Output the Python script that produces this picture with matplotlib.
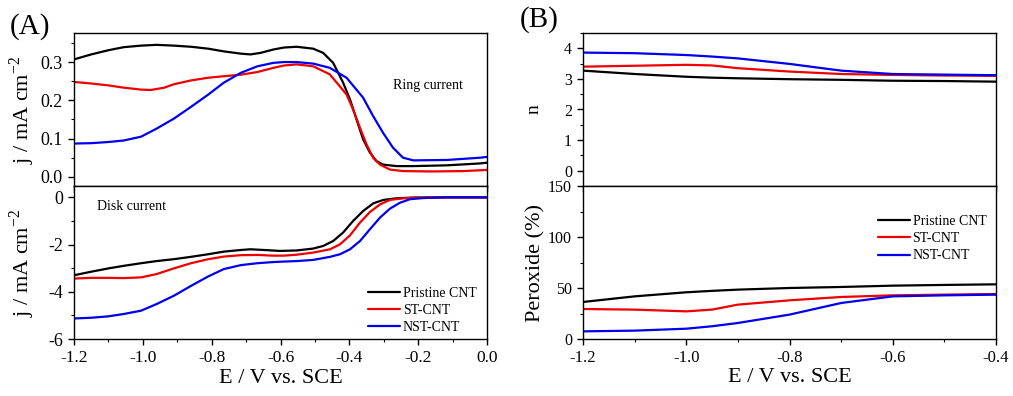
import matplotlib
matplotlib.use("Agg")
import matplotlib.pyplot as plt
from matplotlib.ticker import MultipleLocator, FormatStrFormatter

plt.rcParams['font.family'] = ['Liberation Serif', 'DejaVu Serif']
plt.rcParams['axes.unicode_minus'] = False
plt.rcParams['mathtext.fontset'] = 'custom'
plt.rcParams['mathtext.rm'] = 'Liberation Serif'

labels = ['Pristine CNT', 'ST-CNT', 'NST-CNT']
colors = ['black', '#ee0000', '#0000ee']

# Ring current (A, top)
E_ring_pristine = [-1.2, -1.15, -1.10, -1.055, -1.005, -0.96, -0.91, -0.86, -0.81, -0.765,
                   -0.715, -0.687, -0.658, -0.62, -0.59, -0.553, -0.505, -0.476, -0.447, -0.418,
                   -0.398, -0.379, -0.36, -0.34, -0.321, -0.302, -0.263, -0.214, -0.117, -0.02, 0.0]
ring_pristine = [0.307, 0.320, 0.331, 0.339, 0.343, 0.345, 0.343, 0.340, 0.335, 0.328,
                 0.322, 0.320, 0.324, 0.333, 0.338, 0.340, 0.335, 0.324, 0.298, 0.246,
                 0.202, 0.150, 0.098, 0.063, 0.041, 0.032, 0.028, 0.028, 0.030, 0.035, 0.037]
E_ring_st = [-1.2, -1.15, -1.10, -1.055, -1.005, -0.977, -0.938, -0.91, -0.86, -0.81,
             -0.765, -0.715, -0.667, -0.62, -0.59, -0.553, -0.505, -0.457, -0.428, -0.408,
             -0.389, -0.369, -0.35, -0.331, -0.311, -0.282, -0.244, -0.166, -0.069, 0.0]
ring_st = [0.248, 0.244, 0.239, 0.233, 0.228, 0.227, 0.233, 0.242, 0.252, 0.259,
           0.263, 0.267, 0.274, 0.285, 0.291, 0.294, 0.289, 0.268, 0.237, 0.215,
           0.176, 0.128, 0.085, 0.050, 0.032, 0.019, 0.015, 0.014, 0.015, 0.018]
E_ring_nst = [-1.2, -1.15, -1.10, -1.055, -1.005, -0.96, -0.91, -0.86, -0.81, -0.765,
              -0.715, -0.667, -0.62, -0.59, -0.553, -0.505, -0.457, -0.408, -0.36, -0.331,
              -0.302, -0.273, -0.244, -0.214, -0.117, -0.02, 0.0]
ring_nst = [0.087, 0.088, 0.091, 0.095, 0.105, 0.126, 0.152, 0.183, 0.215, 0.246,
            0.272, 0.289, 0.298, 0.300, 0.300, 0.296, 0.285, 0.259, 0.207, 0.159,
            0.115, 0.076, 0.050, 0.043, 0.044, 0.050, 0.052]

# Disk current (A, bottom)
E_disk_pristine = [-1.2, -1.15, -1.10, -1.055, -1.005, -0.96, -0.91, -0.86, -0.81, -0.765,
                   -0.715, -0.687, -0.648, -0.602, -0.553, -0.505, -0.476, -0.447, -0.418, -0.389,
                   -0.36, -0.33, -0.301, -0.263, -0.214, -0.117, 0.0]
disk_pristine = [-3.30, -3.15, -3.01, -2.90, -2.79, -2.70, -2.62, -2.52, -2.41, -2.30,
                 -2.23, -2.20, -2.23, -2.27, -2.25, -2.17, -2.06, -1.85, -1.49, -1.00,
                 -0.58, -0.25, -0.11, -0.04, -0.01, 0.0, 0.0]
E_disk_st = [-1.2, -1.15, -1.10, -1.055, -1.005, -0.96, -0.91, -0.86, -0.81, -0.765,
             -0.715, -0.667, -0.62, -0.59, -0.553, -0.505, -0.456, -0.427, -0.398, -0.369,
             -0.34, -0.311, -0.282, -0.243, -0.195, -0.117, 0.0]
disk_st = [-3.44, -3.41, -3.41, -3.42, -3.39, -3.25, -3.01, -2.79, -2.62, -2.51,
           -2.45, -2.44, -2.47, -2.47, -2.43, -2.34, -2.20, -1.99, -1.61, -1.07,
           -0.62, -0.30, -0.11, -0.04, -0.01, 0.0, 0.0]
E_disk_nst = [-1.2, -1.15, -1.10, -1.055, -1.005, -0.96, -0.91, -0.86, -0.81, -0.765,
              -0.715, -0.667, -0.62, -0.59, -0.553, -0.505, -0.456, -0.427, -0.398, -0.369,
              -0.34, -0.311, -0.282, -0.253, -0.224, -0.185, -0.117, 0.0]
disk_nst = [-5.13, -5.10, -5.04, -4.94, -4.80, -4.52, -4.17, -3.75, -3.35, -3.04,
            -2.87, -2.79, -2.74, -2.72, -2.70, -2.65, -2.52, -2.41, -2.20, -1.85,
            -1.35, -0.86, -0.48, -0.23, -0.08, -0.03, 0.0, 0.0]

# Electron transfer number n (B, top)
E_b = [-1.2, -1.1, -1.0, -0.95, -0.9, -0.8, -0.7, -0.6, -0.5, -0.4]
n_pristine = [3.27, 3.16, 3.07, 3.04, 3.02, 2.99, 2.97, 2.94, 2.93, 2.91]
n_st = [3.40, 3.43, 3.46, 3.44, 3.35, 3.24, 3.16, 3.13, 3.11, 3.10]
n_nst = [3.86, 3.84, 3.78, 3.73, 3.67, 3.49, 3.27, 3.16, 3.14, 3.12]

# Peroxide % (B, bottom)
per_pristine = [36.3, 41.8, 45.8, 47.2, 48.4, 50.0, 51.0, 52.3, 53.0, 53.6]
per_st = [29.4, 28.8, 27.1, 28.8, 33.7, 37.9, 41.2, 42.8, 43.5, 44.1]
per_nst = [7.5, 8.2, 10.1, 12.5, 15.7, 23.9, 35.3, 41.8, 42.8, 43.5]

W, H = 1013, 396
fig = plt.figure(figsize=(W / 100, H / 100), dpi=100)

def ax_px(x0, y_top, w, h):
    return fig.add_axes([x0 / W, (H - y_top - h) / H, w / W, h / H])

axA1 = ax_px(74, 33, 413, 153)
axA2 = ax_px(74, 186, 413, 153)
axB1 = ax_px(583, 33, 413, 153)
axB2 = ax_px(583, 186, 413, 153)

lw = 1.6
pk = dict(lw=lw, solid_joinstyle='round', solid_capstyle='round')
for x, y, c, l in zip([E_ring_pristine, E_ring_st, E_ring_nst],
                      [ring_pristine, ring_st, ring_nst], colors, labels):
    axA1.plot(x, y, color=c, label=l, **pk)
for x, y, c, l in zip([E_disk_pristine, E_disk_st, E_disk_nst],
                      [disk_pristine, disk_st, disk_nst], colors, labels):
    axA2.plot(x, y, color=c, label=l, **pk)
for y, c, l in zip([n_pristine, n_st, n_nst], colors, labels):
    axB1.plot(E_b, y, color=c, label=l, **pk)
for y, c, l in zip([per_pristine, per_st, per_nst], colors, labels):
    axB2.plot(E_b, y, color=c, label=l, **pk)

for ax in (axA1, axA2):
    ax.set_xlim(-1.2, 0.0)
for ax in (axB1, axB2):
    ax.set_xlim(-1.2, -0.4)
for ax in (axA1, axA2, axB1, axB2):
    ax.xaxis.set_major_locator(MultipleLocator(0.2))
    ax.xaxis.set_minor_locator(MultipleLocator(0.1))
    ax.xaxis.set_major_formatter(FormatStrFormatter('%.1f'))

axA1.set_ylim(-0.024, 0.376)
axA1.yaxis.set_major_locator(MultipleLocator(0.1))
axA1.yaxis.set_minor_locator(MultipleLocator(0.05))
axA1.yaxis.set_major_formatter(FormatStrFormatter('%.1f'))
axA2.set_ylim(-6, 0.48)
axA2.yaxis.set_major_locator(MultipleLocator(2))
axA2.yaxis.set_minor_locator(MultipleLocator(1))
axB1.set_ylim(-0.5, 4.5)
axB1.yaxis.set_major_locator(MultipleLocator(1))
axB1.yaxis.set_minor_locator(MultipleLocator(0.5))
axB2.set_ylim(0, 150)
axB2.yaxis.set_major_locator(MultipleLocator(50))
axB2.yaxis.set_minor_locator(MultipleLocator(25))
for ax in (axA1, axA2, axB1, axB2):
    ax.tick_params(which='major', direction='out', length=4.5, width=1.0,
                   top=False, right=False)
    ax.tick_params(which='minor', direction='out', length=2.5, width=0.8,
                   top=False, right=False)
    for s in ax.spines.values():
        s.set_linewidth(1.0)

for ax in (axA1, axB1):
    ax.tick_params(axis='x', which='both', labelbottom=False)

axA1.tick_params(axis='y', labelsize=13)
axA2.tick_params(axis='y', labelsize=13)
axA2.tick_params(axis='x', labelsize=12.5)
axB1.tick_params(axis='y', labelsize=11.5)
axB2.tick_params(axis='y', labelsize=11.5)
axB2.tick_params(axis='x', labelsize=12)

ylab = r'j / mA cm$^{\mathregular{-2}}$'
axA1.set_ylabel(ylab, fontsize=16)
axA2.set_ylabel(ylab, fontsize=16)
axA2.set_xlabel('E / V vs. SCE', fontsize=16, labelpad=2)
axB1.set_ylabel('n', fontsize=14)
axB2.set_ylabel('Peroxide (%)', fontsize=16)
axB2.set_xlabel('E / V vs. SCE', fontsize=16, labelpad=1)
axA1.yaxis.set_label_coords(-0.09, 0.5)
axA2.yaxis.set_label_coords(-0.09, 0.5)
axB1.yaxis.set_label_coords(-0.097, 0.5)
axB2.yaxis.set_label_coords(-0.092, 0.5)

axA1.text(0.772, 0.66, 'Ring current', transform=axA1.transAxes, fontsize=10, va='center')
axA2.text(0.056, 0.863, 'Disk current', transform=axA2.transAxes, fontsize=10, va='center')

legkw = dict(frameon=False, fontsize=10, handlelength=2.3, handletextpad=0.2,
             labelspacing=0.3, borderpad=0, borderaxespad=0, loc='upper left')
axA2.legend(bbox_to_anchor=(0.712, 0.34), **legkw)
axB2.legend(bbox_to_anchor=(0.714, 0.81), **legkw)

fig.text(10 / W, 1 - 27 / H, '(A)', fontsize=21, va='center', ha='left')
fig.text(520 / W, 1 - 20 / H, '(B)', fontsize=21, va='center', ha='left')

fig.savefig('out.png', dpi=100)
